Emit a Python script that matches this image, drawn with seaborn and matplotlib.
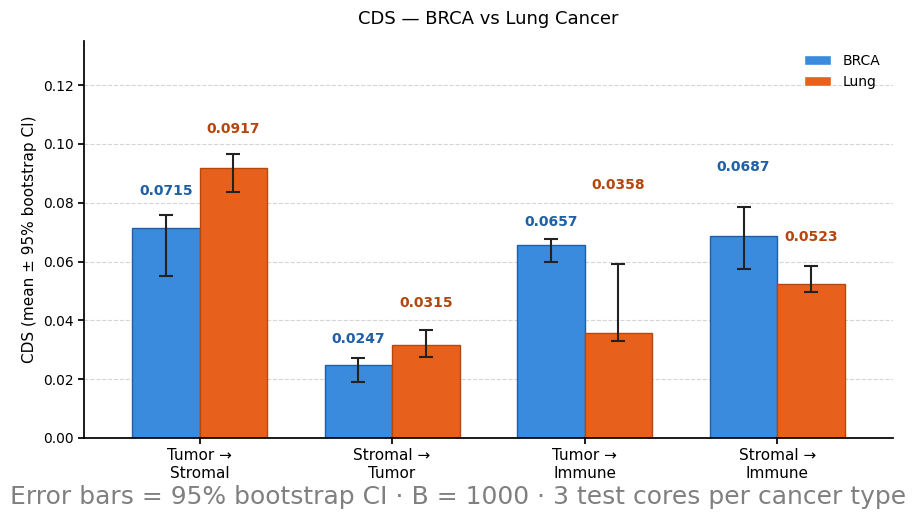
import matplotlib
matplotlib.use("Agg")
import matplotlib.pyplot as plt
import numpy as np
import pandas as pd
import seaborn as sns

# values
transitions = ["Tumor →\nStromal", "Stromal →\nTumor", "Tumor →\nImmune", "Stromal →\nImmune"]
cohorts = ["BRCA", "Lung"]
brca_mean = [0.0715, 0.0247, 0.0657, 0.0687]
brca_lo = [0.0551, 0.0190, 0.0598, 0.0575]
brca_hi = [0.0758, 0.0272, 0.0677, 0.0785]
lung_mean = [0.0917, 0.0315, 0.0358, 0.0523]
lung_lo = [0.0836, 0.0275, 0.0330, 0.0496]
lung_hi = [0.0966, 0.0367, 0.0592, 0.0585]
# heights where the value labels sit
brca_label_y = [0.0840, 0.0336, 0.0733, 0.0920]
lung_label_y = [0.1050, 0.0458, 0.0862, 0.0682]

colors = {"BRCA": "#3a8ade", "Lung": "#e8611c"}
edges = {"BRCA": "#1f5fa5", "Lung": "#b5470f"}
text_colors = {"BRCA": "#1f5fa5", "Lung": "#b5460f"}

df = pd.DataFrame({
    "transition": transitions * 2,
    "cohort": ["BRCA"] * 4 + ["Lung"] * 4,
    "cds": brca_mean + lung_mean,
    "lo": brca_lo + lung_lo,
    "hi": brca_hi + lung_hi,
    "label_y": brca_label_y + lung_label_y,
})

sns.set_theme(style="ticks", rc={"text.color": "black", "axes.labelcolor": "black",
                                 "xtick.color": "black", "ytick.color": "black",
                                 "axes.edgecolor": "black"})
plt.rcParams['font.family'] = ['DejaVu Sans']

fig = plt.figure(figsize=(9.16, 5.2), dpi=100)
ax = fig.add_axes([0.0917, 0.158, 0.883, 0.763])

sns.barplot(data=df, x="transition", y="cds", hue="cohort", order=transitions,
            hue_order=cohorts, palette=colors, width=0.7, errorbar=None,
            saturation=1, ax=ax, zorder=2)

# bars are drawn hue by hue, in order
for patch, (_, row) in zip(ax.patches, df.iterrows()):
    patch.set_edgecolor(edges[row["cohort"]])
    patch.set_linewidth(1)
    xc = patch.get_x() + patch.get_width() / 2
    ax.errorbar(xc, row["cds"],
                yerr=[[row["cds"] - row["lo"]], [row["hi"] - row["cds"]]],
                fmt="none", ecolor="#222222", elinewidth=1.5, capsize=5,
                capthick=1.5, zorder=3)
    ax.text(xc, row["label_y"], f"{row['cds']:.4f}", ha="center", va="center",
            fontsize=10, fontweight="bold", color=text_colors[row["cohort"]])

ax.set_xlim(-0.6, 3.6)
ax.set_ylim(0, 0.135)
ax.set_yticks(np.arange(0, 0.121, 0.02))
ax.yaxis.grid(True, linestyle="--", color="#d5d5d5", linewidth=0.8)
ax.set_axisbelow(True)
sns.despine(ax=ax)
ax.tick_params(axis="x", labelsize=11, length=4)
ax.tick_params(axis="y", labelsize=10, length=4)
ax.set_xlabel("")
ax.set_ylabel("CDS (mean ± 95% bootstrap CI)", fontsize=11)
ax.set_title("CDS — BRCA vs Lung Cancer", fontsize=13, pad=12)

handles, labels = ax.get_legend_handles_labels()
ax.legend(handles, labels, loc="upper right", frameon=False, fontsize=10,
          handlelength=2.0, handleheight=0.7)

fig.text(0.5, 0.044, "Error bars = 95% bootstrap CI · B = 1000 · 3 test cores per cancer type",
         ha="center", va="center", fontsize=18, color="#808080")

fig.savefig("out.png", dpi=100)
